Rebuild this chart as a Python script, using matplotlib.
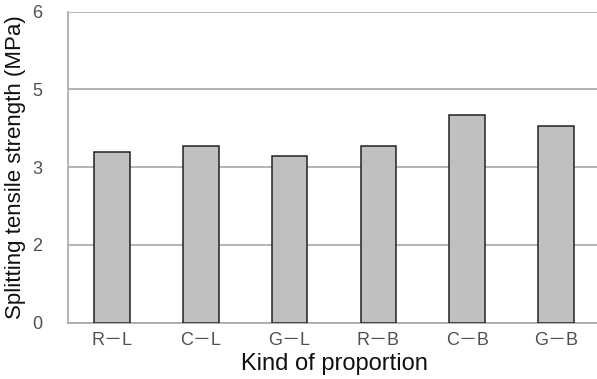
import matplotlib
matplotlib.use('Agg')
import matplotlib.pyplot as plt
import numpy as np

plt.rcParams['font.family'] = ['Liberation Sans', 'Noto Sans CJK KR', 'DejaVu Sans']

# splitting tensile strength per mix proportion (MPa)
kinds = ['R－L', 'C－L', 'G－L', 'R－B', 'C－B', 'G－B']
strength = [3.29, 3.41, 3.21, 3.40, 4.00, 3.80]

# y axis runs 0..6 in steps of 1.5, labels shown with no decimals
yticks = [0, 1.5, 3, 4.5, 6]
ylabels = ['0', '2', '3', '5', '6']

fig = plt.figure(figsize=(5.97, 3.79), dpi=100)
ax = fig.add_axes([0.1132, 0.149, 0.8925, 0.820])

x = np.arange(len(kinds))
ax.bar(x, strength, width=0.4, color='#c0c0c0', edgecolor='#222222',
       linewidth=1.1, zorder=3)

ax.set_xlim(-0.5, len(kinds) - 0.5)
ax.set_ylim(0, 6)
ax.set_yticks(yticks)
ax.set_yticklabels(ylabels)
ax.set_xticks(x)
ax.set_xticklabels(kinds)

ax.yaxis.grid(True, color='#a8a8a8', linewidth=1.2, zorder=0)
ax.tick_params(axis='both', length=0, labelsize=13, colors='#505050')
ax.tick_params(axis='y', pad=18)
ax.tick_params(axis='x', pad=7)

for s in ['top', 'right']:
    ax.spines[s].set_visible(False)
for s in ['left', 'bottom']:
    ax.spines[s].set_color('#a8a8a8')
    ax.spines[s].set_linewidth(1.2)

ax.set_ylabel('Splitting tensile strength (MPa)', fontsize=16, color='#111111',
              labelpad=5)
ax.set_xlabel('Kind of proportion', fontsize=17, color='#111111', labelpad=3)

fig.savefig('out.png', dpi=100)
